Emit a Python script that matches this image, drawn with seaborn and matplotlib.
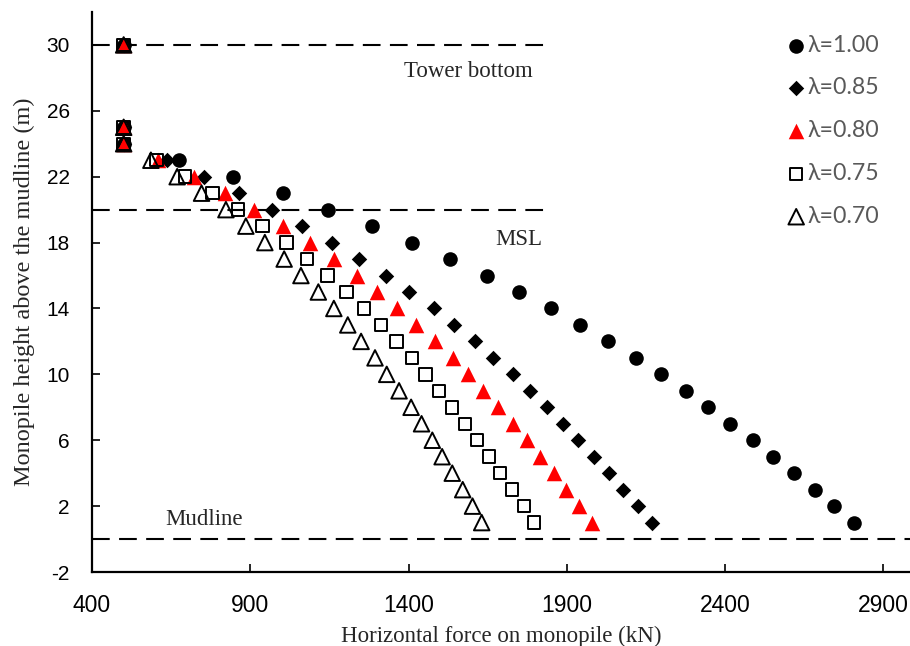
import seaborn as sns
import matplotlib.pyplot as plt
import pandas as pd

# heights (m) above mudline, same for every series
heights = [30, 25, 24, 23, 22, 21, 20, 19, 18, 17, 16, 15, 14, 13, 12,
           11, 10, 9, 8, 7, 6, 5, 4, 3, 2, 1]

# horizontal force (kN)
force_100 = [500, 500, 500, 676, 846, 1002, 1144, 1285, 1411, 1531, 1647, 1749, 1851,
             1943, 2031, 2117, 2199, 2276, 2347, 2416, 2487, 2552, 2617, 2683, 2743, 2807]
force_085 = [500, 500, 500, 636, 754, 865, 968, 1064, 1159, 1245, 1328, 1402, 1480,
             1543, 1610, 1668, 1729, 1783, 1838, 1887, 1935, 1985, 2033, 2078, 2126, 2170]
force_080 = [500, 500, 500, 609, 723, 820, 913, 1004, 1089, 1164, 1236, 1301, 1364,
             1425, 1484, 1539, 1589, 1636, 1683, 1729, 1773, 1816, 1859, 1897, 1939, 1979]
force_075 = [500, 500, 500, 604, 694, 781, 862, 939, 1015, 1080, 1144, 1204, 1259,
             1313, 1362, 1411, 1454, 1497, 1537, 1578, 1617, 1655, 1689, 1726, 1764, 1797]
force_070 = [500, 500, 500, 586, 669, 746, 823, 886, 946, 1007, 1060, 1115, 1164,
             1208, 1250, 1294, 1331, 1370, 1408, 1441, 1475, 1506, 1538, 1571, 1602, 1631]

labels = ["λ=1.00", "λ=0.85", "λ=0.80", "λ=0.75", "λ=0.70"]
series = [force_100, force_085, force_080, force_075, force_070]

# reference levels
tower_bottom = 30
msl = 20
mudline = 0

sns.set_style("white")
plt.rcParams['font.family'] = ['Liberation Sans', 'DejaVu Sans']
plt.rcParams['axes.unicode_minus'] = False

fig = plt.figure(figsize=(9.1, 6.46), dpi=100)
ax = fig.add_axes([92 / 910, 1 - 572 / 646, (910 - 92) / 910, (572 - 12) / 646])

# marker styles per series
styles = [
    dict(marker='o', s=110, color='black', edgecolor='black', linewidth=0),
    dict(marker='D', s=62, color='black', edgecolor='black', linewidth=0),
    dict(marker='^', s=125, color='#ff0000', edgecolor='#ff0000', linewidth=0),
    dict(marker='s', s=80, facecolor='none', edgecolor='black', linewidth=1.4),
    dict(marker='^', s=125, facecolor='none', edgecolor='black', linewidth=1.4),
]

for lab, xs, st in zip(labels, series, styles):
    df = pd.DataFrame({"force": xs, "height": heights})
    sns.scatterplot(data=df, x="force", y="height", ax=ax, label=lab, zorder=3, **st)

# dashed reference lines
dash = (0, (8.5, 4.5))
ax.plot([400, 1840], [tower_bottom, tower_bottom], color='black', lw=1.5, ls=dash, zorder=2)
ax.plot([400, 1840], [msl, msl], color='black', lw=1.5, ls=dash, zorder=2)
ax.plot([400, 3000], [mudline, mudline], color='black', lw=1.5, ls=dash, zorder=2)

serif = ['Liberation Serif', 'DejaVu Serif']
ax.text(1588, 28.4, "Tower bottom", family=serif, fontsize=16.5, ha='center', va='center')
ax.text(1749, 18.2, "MSL", family=serif, fontsize=16.5, ha='center', va='center')
ax.text(754, 1.2, "Mudline", family=serif, fontsize=16.5, ha='center', va='center')

ax.set_xlim(400, 2984)
ax.set_ylim(-2, 32)
ax.set_xticks(range(400, 3000, 500))
ax.set_yticks(range(-2, 31, 4))
ax.tick_params(direction='in', length=6, width=1.2, colors='black',
               bottom=True, left=True, top=False, right=False)
ax.tick_params(axis='x', pad=16, labelsize=16.5)
ax.tick_params(axis='y', pad=16, labelsize=15)

ax.set_xlabel("Horizontal force on monopile (kN)", family=serif, fontsize=16.5, labelpad=6)
ax.set_ylabel("Monopile height above the mudline (m)", family=serif, fontsize=17.5, labelpad=8)

for side in ['top', 'right']:
    ax.spines[side].set_visible(False)
for side in ['left', 'bottom']:
    ax.spines[side].set_color('black')
    ax.spines[side].set_linewidth(1.6)

leg = ax.legend(loc='upper left', bbox_to_anchor=(773 / 910, 1 - 23 / 646),
                bbox_transform=fig.transFigure, frameon=False, fontsize=16.7,
                labelcolor='#595959', handletextpad=0.0, handlelength=1.0,
                labelspacing=0.94, borderpad=0)
for t in leg.get_texts():
    t.set_family(['Lato', 'DejaVu Sans'])

fig.savefig("out.png", dpi=100)
